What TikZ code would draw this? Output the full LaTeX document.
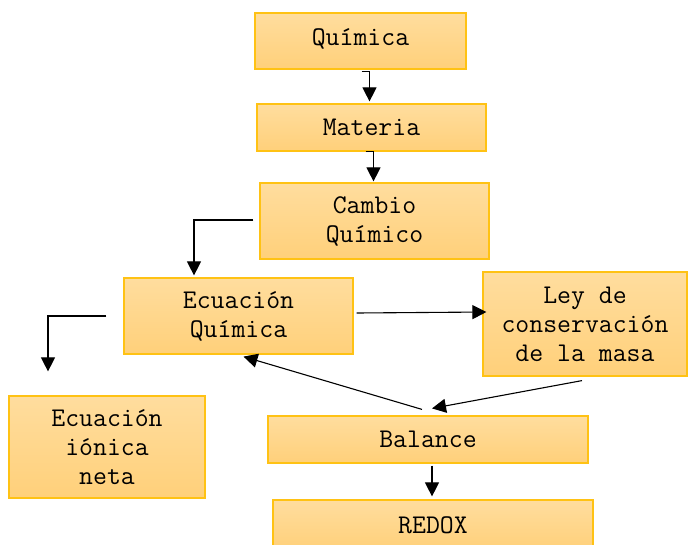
\documentclass[tikz,border=0pt]{standalone}
\usepackage{fontspec}
\usetikzlibrary{positioning, arrows.meta, calc}
\definecolor{cTop}{RGB}{255,221,158}
\definecolor{cBot}{RGB}{255,208,122}
\definecolor{cLine}{RGB}{255,194,20}

\begin{document}
\begin{tikzpicture}[x=1pt, y=-1pt,
    box/.style={draw=cLine, line width=1.2pt, top color=cTop, bottom color=cBot, align=center, inner sep=0pt, font=\ttfamily\fontsize{27}{29}\selectfont},
    arr/.style={-{Triangle[length=14pt, width=14pt]}, line width=1.1pt}]
    \clip (0,0) rectangle (688,544);

    % Concept boxes
    \node[box, minimum width=211pt, minimum height=56pt, text height=19pt, text depth=11pt] (Qui) at (360.5,41) {Química};
    \node[box, minimum width=229pt, minimum height=47pt] (Mat) at (371.5,127.5) {Materia};
    \node[box, minimum width=229pt, minimum height=76pt] (Cam) at (374.5,221) {Cambio\\Químico};
    \node[box, minimum width=229pt, minimum height=76pt] (EcQ) at (238.5,316) {Ecuación\\Química};
    \node[box, minimum width=204pt, minimum height=104pt] (Ley) at (585,324) {Ley de\\conservación\\de la masa};
    \node[box, minimum width=196pt, minimum height=102pt] (Ion) at (107,447) {Ecuación\\iónica\\neta};
    \node[box, minimum width=320pt, minimum height=47pt] (Bal) at (428,439.5) {Balance};
    \node[box, minimum width=320pt, minimum height=50pt] (Red) at (433,525) {REDOX};

    % Elbow connectors
    \draw[arr] ([xshift=1pt,yshift=-2pt]Qui.south) -| ([xshift=-2pt,yshift=2pt]Mat.north);
    \draw[arr] ([xshift=-6pt,yshift=0pt]Mat.south) -| ([xshift=-1pt,yshift=1pt]Cam.north);
    \draw[arr] ([xshift=-6pt,yshift=1pt]Cam.west) -| ([xshift=-44.5pt,yshift=2pt]EcQ.north);
    \draw[arr] ([xshift=-17pt]EcQ.west) -| ([xshift=-59pt,yshift=24pt]Ion.north);

    % Straight connectors
    \draw[arr] ([xshift=3pt,yshift=3pt]EcQ.east) -- ([xshift=4pt,yshift=12pt]Ley.west);
    \draw[arr] ([xshift=-3pt,yshift=-4pt]Ley.south) -- ([xshift=4pt,yshift=7pt]Bal.north);
    \draw[arr] ([xshift=-6pt,yshift=6pt]Bal.north) -- ([xshift=5pt,yshift=-2pt]EcQ.south);
    \draw[arr] ([xshift=4pt,yshift=-2pt]Bal.south) -- ([xshift=-1pt,yshift=3pt]Red.north);

\end{tikzpicture}
\end{document}
